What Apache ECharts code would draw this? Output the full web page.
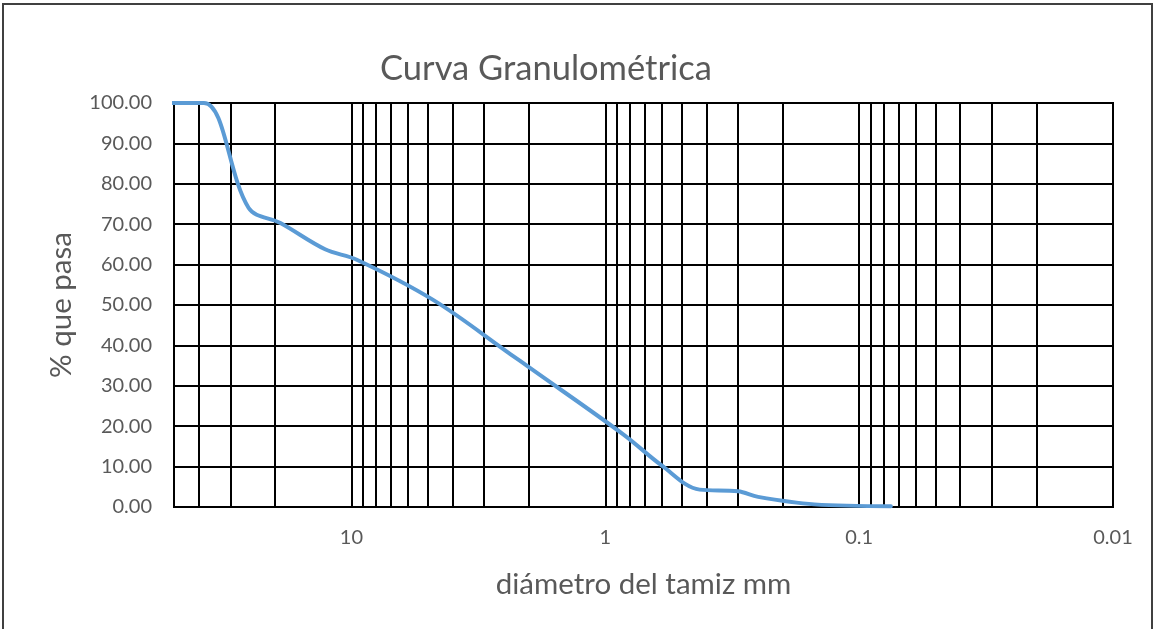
<!DOCTYPE html>
<html><head><meta charset="utf-8">
<script src="https://cdn.jsdelivr.net/npm/echarts@6/dist/echarts.min.js"></script>
<style>html,body{margin:0;padding:0;background:#fff}#c{width:1157px;height:629px}</style>
</head><body><div id="c"></div>
<script>
// Sieve openings (mm) and % passing
const sieveSizes = [50.8, 38.1, 25.4, 19.05, 12.7, 9.525, 4.75, 2.36, 2.0, 0.85, 0.6, 0.425, 0.3, 0.25, 0.15, 0.075];
const percentPassing = [100, 100, 74.0, 70.3, 63.8, 61.2, 51.2, 37.8, 34.6, 18.0, 10.3, 4.3, 3.9, 2.5, 0.65, 0.2];
// Vertical log grid lines (mm)
const gridDiameters = [40, 30, 20, 10, 9, 8, 7, 6, 5, 4, 3, 2, 1, 0.9, 0.8, 0.7, 0.6, 0.5, 0.4, 0.3, 0.2, 0.1, 0.09, 0.08, 0.07, 0.06, 0.05, 0.04, 0.03, 0.02];
// Labelled decades on the x axis
const xTickLabels = [10, 1, 0.1, 0.01];
const xMin = 0.01, xMax = 50;
const yMin = 0, yMax = 100, yStep = 10;

const FONT = 'Lato';
const chart = echarts.init(document.getElementById('c'), null, {renderer: 'canvas'});
const seriesData = sieveSizes.map((d, i) => [d, percentPassing[i]]);

chart.setOption({
  animation: false,
  backgroundColor: '#fff',
  title: {
    text: 'Curva Granulométrica',
    left: 541, top: 46, textAlign: 'center',
    textStyle: {fontFamily: FONT, fontSize: 34.5, fontWeight: 'normal', color: '#595959'}
  },
  graphic: [{
    type: 'rect', silent: true, z: -1,
    shape: {x: 3, y: 4, width: 1149, height: 640},
    style: {fill: 'none', stroke: '#404040', lineWidth: 2}
  }],
  grid: {
    left: 174, right: 44, top: 103, bottom: 122,
    show: true, borderColor: '#000', borderWidth: 2, backgroundColor: 'transparent'
  },
  xAxis: {
    type: 'log', logBase: 10, inverse: true, min: xMin, max: xMax,
    name: 'diámetro del tamiz mm', nameLocation: 'middle', nameGap: 62,
    nameTextStyle: {fontFamily: FONT, fontSize: 29.5, color: '#595959'},
    axisLine: {show: true, lineStyle: {color: '#000', width: 2}},
    axisTick: {show: false},
    splitLine: {show: false},
    axisLabel: {
      fontFamily: FONT, fontSize: 20, color: '#595959', margin: 21,
      formatter: v => {
        const n = Number(Number(v).toPrecision(3));
        return xTickLabels.indexOf(n) >= 0 ? String(n) : '';
      }
    }
  },
  yAxis: {
    type: 'value', min: yMin, max: yMax, interval: yStep,
    name: '% que pasa', nameLocation: 'middle', nameGap: 98, nameRotate: 90,
    nameTextStyle: {fontFamily: FONT, fontSize: 29.5, color: '#595959'},
    axisLine: {show: false}, axisTick: {show: false},
    splitLine: {show: true, lineStyle: {color: '#000', width: 2}},
    axisLabel: {
      fontFamily: FONT, fontSize: 20, color: '#595959', margin: 22,
      formatter: v => Number(v).toFixed(2)
    }
  },
  series: [{
    type: 'line', z: 3,
    data: seriesData,
    smooth: 0.35, showSymbol: false, symbol: 'none',
    lineStyle: {color: '#5B9BD5', width: 4, cap: 'round'},
    markLine: {
      z: 1, silent: true, symbol: ['none', 'none'], animation: false,
      label: {show: false},
      lineStyle: {color: '#000', width: 2, type: 'solid'},
      emphasis: {disabled: true},
      data: gridDiameters.map(d => ({xAxis: d}))
    }
  }]
});
</script></body></html>
